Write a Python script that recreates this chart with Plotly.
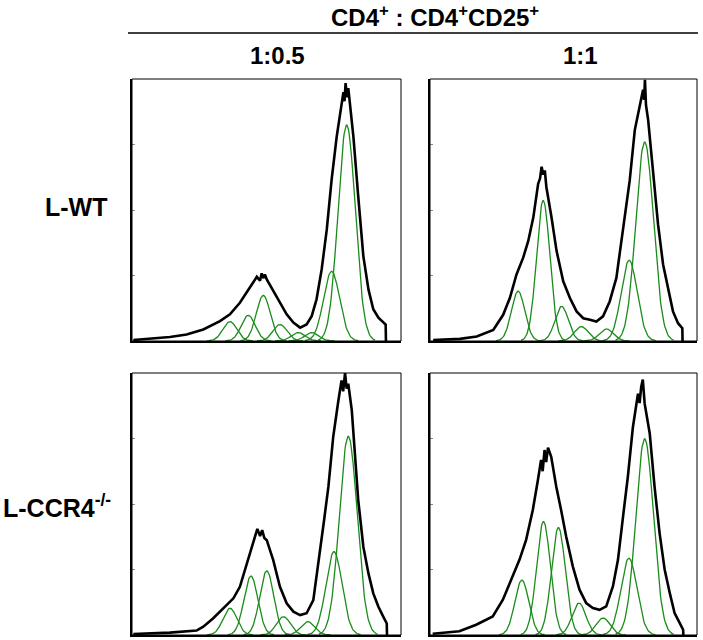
import plotly.graph_objects as go
import numpy as np

# ---------------- data (x: % of channel range, y: % of panel max count) ----------------
panel_names = ["L-WT 1:0.5", "L-WT 1:1", "L-CCR4-/- 1:0.5", "L-CCR4-/- 1:1"]

# black measured histograms
tl_x = [0.5, 7.9, 14.1, 20.3, 26.5, 32.7, 36.4, 40.1, 42.6, 45.1, 46.4, 47.6, 48.2, 48.8, 49.4, 50.1, 52.5, 55.0, 57.5, 60.0, 62.5, 64.9, 66.8, 68.6, 70.5, 72.4, 74.2, 76.1, 77.9, 78.6, 79.0, 79.4, 79.9, 80.4, 81.0, 82.3, 84.1, 86.0, 87.9, 89.7, 91.6, 93.4, 94.3, 94.4]
tl_y = [0.4, 0.9, 1.5, 2.5, 4.4, 7.6, 10.2, 14.6, 18.4, 22.2, 24.5, 23.0, 25.8, 24.0, 25.4, 23.5, 19.0, 14.6, 10.2, 7.0, 5.1, 6.3, 9.5, 15.9, 27.3, 42.5, 61.5, 78.0, 90.7, 95.0, 91.5, 98.4, 93.0, 96.5, 90.7, 78.0, 55.2, 32.4, 19.7, 12.1, 8.9, 7.0, 6.3, 0.0]

tr_x = [1.2, 11.2, 17.5, 23.7, 27.4, 29.9, 32.4, 34.9, 36.8, 38.7, 40.5, 41.2, 41.8, 42.4, 43.0, 43.6, 45.5, 47.4, 49.9, 52.4, 54.9, 57.4, 59.9, 62.3, 64.8, 67.3, 69.8, 72.3, 74.8, 76.7, 78.6, 79.2, 79.8, 80.2, 80.5, 80.9, 81.7, 83.5, 85.4, 87.3, 89.2, 91.0, 92.9, 94.5, 94.6]
tr_y = [0.4, 0.8, 1.7, 4.2, 10.0, 16.4, 25.4, 31.8, 38.2, 47.2, 60.0, 62.0, 66.5, 63.5, 65.1, 58.7, 47.2, 34.4, 22.8, 16.4, 11.3, 8.7, 8.1, 7.4, 9.4, 15.1, 24.1, 42.1, 61.3, 80.5, 89.5, 93.0, 95.9, 92.0, 99.7, 90.0, 84.4, 65.1, 44.6, 29.2, 20.3, 11.3, 6.8, 4.9, 0.0]

bl_x = [0.5, 14.1, 24.0, 26.5, 30.2, 34.0, 37.7, 40.1, 42.0, 43.9, 45.7, 46.6, 47.6, 48.4, 49.2, 50.1, 52.5, 55.0, 57.5, 60.0, 62.5, 64.9, 67.4, 69.9, 71.4, 73.0, 74.8, 76.7, 77.9, 78.5, 79.2, 79.8, 80.4, 81.7, 82.9, 84.1, 86.0, 87.9, 89.7, 91.6, 93.4, 94.7, 94.8]
bl_y = [0.4, 0.9, 1.7, 3.2, 6.4, 10.2, 14.0, 18.4, 24.8, 31.1, 37.5, 40.5, 37.8, 40.0, 37.0, 36.2, 28.6, 18.4, 12.1, 8.9, 7.6, 8.3, 13.3, 31.1, 43.8, 56.5, 75.6, 89.3, 97.2, 93.0, 100.0, 94.0, 95.9, 85.8, 69.2, 51.5, 33.7, 23.5, 15.9, 10.8, 7.0, 4.4, 0.0]

br_x = [1.0, 11.0, 17.3, 23.5, 27.3, 31.0, 33.5, 36.0, 38.5, 40.4, 41.6, 42.2, 42.9, 43.5, 44.2, 45.4, 47.3, 49.1, 51.0, 53.5, 56.0, 58.5, 61.0, 63.5, 66.0, 68.5, 70.4, 72.3, 74.1, 76.0, 77.9, 78.5, 79.1, 79.7, 80.4, 82.3, 84.1, 86.0, 87.9, 89.8, 91.6, 93.5, 94.8, 94.9]
br_y = [0.5, 1.4, 3.9, 7.1, 13.5, 22.3, 28.7, 36.3, 47.7, 59.1, 66.8, 62.5, 70.6, 66.0, 71.5, 68.0, 56.6, 47.7, 37.6, 26.1, 17.3, 12.2, 10.3, 9.6, 10.9, 18.5, 28.7, 45.2, 60.4, 79.4, 92.1, 88.5, 94.7, 97.5, 88.3, 76.9, 56.6, 38.8, 24.9, 16.0, 8.4, 4.6, 2.0, 0.0]

# fitted generation peaks (green): centre, height, width
tl_centres = [79.8, 74.2, 66.8, 61.8, 55.0, 48.8, 43.2, 36.4]
tl_heights = [82.5, 26.6, 3.2, 3.2, 6.3, 17.4, 9.8, 7.4]
tl_widths = [3.2, 3.0, 2.6, 2.6, 2.6, 2.6, 2.6, 2.6]

tr_centres = [80.4, 74.6, 66.1, 56.7, 49.3, 42.4, 33.0]
tr_heights = [76.0, 30.8, 4.6, 5.5, 13.2, 53.6, 19.0]
tr_widths = [3.3, 3.0, 2.6, 2.6, 2.5, 2.5, 2.5]

bl_centres = [80.4, 75.1, 65.3, 56.3, 50.1, 44.2, 36.4]
bl_heights = [75.9, 31.8, 5.1, 7.0, 24.5, 22.5, 10.2]
bl_widths = [3.3, 3.0, 2.6, 2.6, 2.6, 2.6, 2.6]

br_centres = [80.4, 74.5, 64.8, 55.8, 48.1, 42.5, 34.4]
br_heights = [74.9, 29.3, 6.5, 12.2, 41.0, 43.3, 21.0]
br_widths = [3.3, 3.0, 2.6, 2.6, 2.6, 2.6, 2.6]

title_text = "CD4<sup>+</sup> : CD4<sup>+</sup>CD25<sup>+</sup>"
col_labels = ["1:0.5", "1:1"]
row_labels = ["L-WT", "L-CCR4<sup>-/-</sup>"]

# ---------------- figure ----------------
W, H = 703, 640
def px_x(p):
    return p / W
def px_y(p):
    return 1 - p / H

x_doms = [(132, 401), (430, 697)]
y_doms = [(79, 341), (373, 635)]

panels = [
    (tl_x, tl_y, tl_centres, tl_heights, tl_widths, 0, 0),
    (tr_x, tr_y, tr_centres, tr_heights, tr_widths, 0, 1),
    (bl_x, bl_y, bl_centres, bl_heights, bl_widths, 1, 0),
    (br_x, br_y, br_centres, br_heights, br_widths, 1, 1),
]

fig = go.Figure()
GREEN = "#1a8c1a"
layout_axes = {}
shapes = []
for i, (bx, by, cs, hs, ws, r, c) in enumerate(panels):
    n = "" if i == 0 else str(i + 1)
    xa, ya = "x" + n, "y" + n
    for cc, hh, ww in zip(cs, hs, ws):
        gx = np.linspace(cc - 3.3 * ww, cc + 3.3 * ww, 80)
        gy = hh * np.exp(-0.5 * ((gx - cc) / ww) ** 2)
        fig.add_trace(go.Scatter(x=gx, y=gy, mode="lines", line=dict(color=GREEN, width=1.3),
                                 xaxis=xa, yaxis=ya, showlegend=False, hoverinfo="skip"))
    fig.add_trace(go.Scatter(x=bx, y=by, mode="lines", line=dict(color="black", width=2.6),
                             xaxis=xa, yaxis=ya, showlegend=False, name=panel_names[i]))
    x0, x1 = x_doms[c]
    y0, y1 = y_doms[r]
    layout_axes["xaxis" + n] = dict(domain=[px_x(x0), px_x(x1)], range=[0, 100], anchor=ya,
                                    showgrid=False, zeroline=False, showticklabels=False,
                                    showline=True, linecolor="black", linewidth=2, ticks="")
    layout_axes["yaxis" + n] = dict(domain=[px_y(y1), px_y(y0)], range=[0, 100], anchor=xa,
                                    showgrid=False, zeroline=False, showticklabels=False,
                                    showline=True, linecolor="black", linewidth=2,
                                    ticks="inside", ticklen=3, tickcolor="#888",
                                    tickvals=[25, 50, 75])
    shapes.append(dict(type="rect", xref=xa + " domain", yref=ya + " domain", x0=0, x1=1, y0=0, y1=1,
                       line=dict(color="black", width=1)))

shapes.append(dict(type="line", xref="paper", yref="paper", x0=px_x(128), x1=px_x(698),
                   y0=px_y(33), y1=px_y(33), line=dict(color="black", width=1.5)))

FONT = dict(family="Liberation Sans, Arial, sans-serif", size=24, color="black")
def ann(text, cx, cy, size):
    return dict(text="<b>" + text + "</b>", x=px_x(cx), y=px_y(cy), xref="paper", yref="paper",
                xanchor="center", yanchor="middle", showarrow=False,
                font=dict(FONT, size=size))

annotations = [
    ann(title_text, 435, 16, 24),
    ann(col_labels[0], 277, 55, 24),
    ann(col_labels[1], 580, 55, 24),
    ann(row_labels[0], 76, 207, 25),
    ann(row_labels[1], 57, 506, 25),
]

fig.update_layout(width=W, height=H, margin=dict(l=0, r=0, t=0, b=0),
                  paper_bgcolor="white", plot_bgcolor="white",
                  shapes=shapes, annotations=annotations, **layout_axes)
fig.write_html("out.html", config={"displayModeBar": False},
               post_script="document.body.style.margin='0';document.body.style.padding='0';")
